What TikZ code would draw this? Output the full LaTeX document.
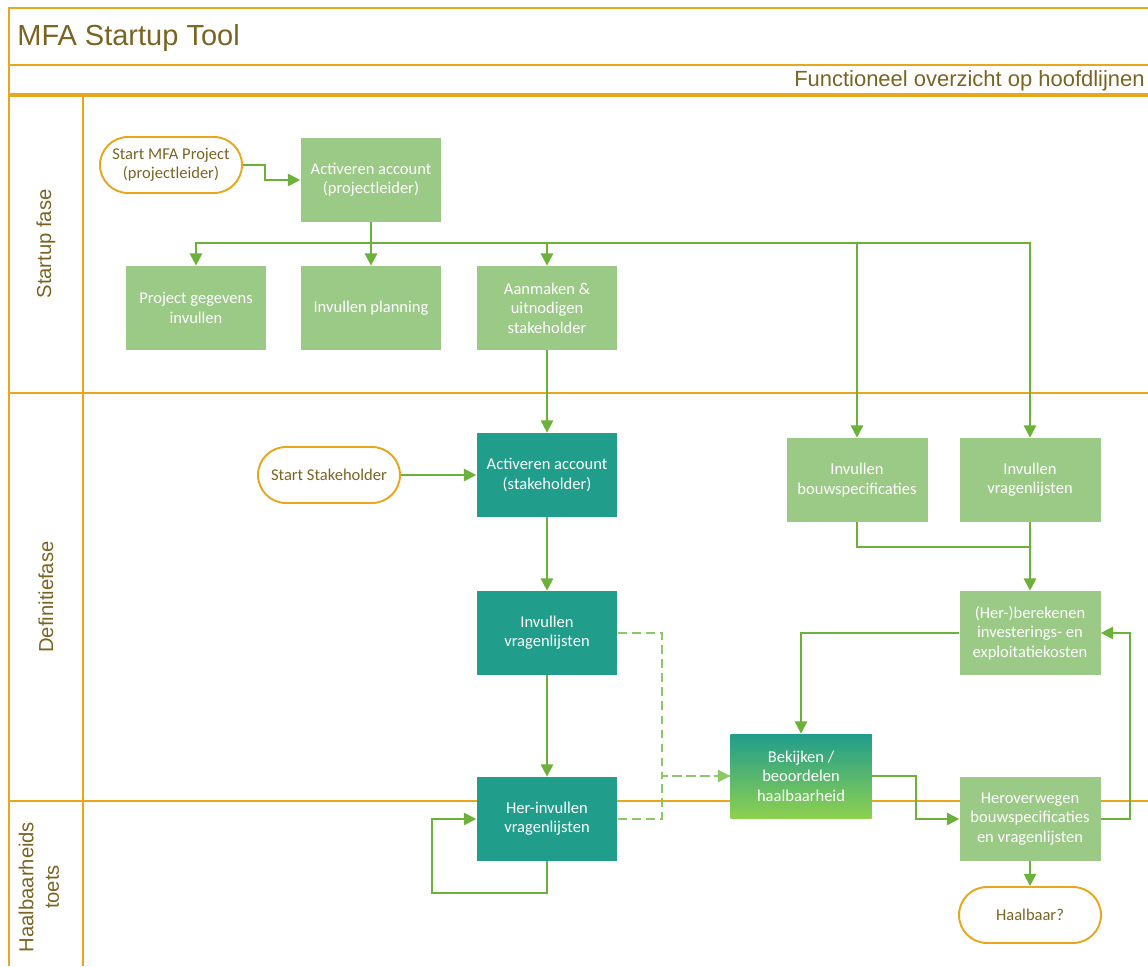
\documentclass[tikz,border=0pt]{standalone}
\usepackage{fontspec}
\setmainfont{Carlito}
\newfontfamily\headfont{Liberation Sans}
\usetikzlibrary{arrows.meta}
\definecolor{gold}{HTML}{E9A71E}
\definecolor{olive}{HTML}{7B6422}
\definecolor{lgreen}{HTML}{9BC986}
\definecolor{tealbox}{HTML}{209D8B}
\definecolor{gradgreen}{HTML}{8ED050}
\definecolor{linegreen}{HTML}{6CB23A}
\definecolor{dashgreen}{HTML}{8CC864}
\begin{document}
\begin{tikzpicture}[x=0.02cm,y=-0.02cm,
                      box/.style={fill=lgreen,text=white,minimum width=2.82cm,minimum height=1.68cm,align=center,inner sep=2pt,font=\fontsize{9.4}{11}\selectfont},
                      tbox/.style={box,fill=tealbox},
                      term/.style={draw=gold,line width=1.1pt,fill=white,rounded corners=0.56cm,minimum width=2.84cm,minimum height=1.12cm,align=center,text=olive,font=\fontsize{9.4}{11}\selectfont},
                      lane/.style={draw=gold,line width=1.2pt},
                      lanetxt/.style={rotate=90,text=olive,align=center,font=\headfont\fontsize{11.5}{14.5}\selectfont},
                      link/.style={draw=linegreen,line width=1.1pt},
                      flow/.style={link,-{Triangle[length=7pt,width=7pt]}},
                      dlink/.style={draw=dashgreen,line width=1.1pt,dash pattern=on 5pt off 3pt},
                      dflow/.style={dlink,-{Triangle[length=7pt,width=7pt]}}]
                      \useasboundingbox (0,0) rectangle (1148,966);
                      \fill[white] (0,0) rectangle (1148,966);
                      \draw[lane] (1148,8) -- (9,8) -- (9,966);
                      \draw[lane] (9,65) -- (1148,65);
                      \draw[lane,line width=2pt] (9,95) -- (1148,95);
                      \draw[lane] (83,95) -- (83,966);
                      \draw[lane] (9,393) -- (1148,393);
                      \draw[lane] (9,801) -- (1148,801);
                      \node[anchor=base west,inner sep=0,text=olive,font=\headfont\fontsize{16.5}{20}\selectfont] (title) at (17,46) {MFA Startup Tool};
                      \node[anchor=base east,inner sep=0,text=olive,font=\headfont\fontsize{12.5}{15}\selectfont] (sub) at (1145,87) {Functioneel overzicht op hoofdlijnen};
                      \node[lanetxt] (l1) at (46,244) {Startup fase};
                      \node[lanetxt] (l2) at (46,597) {Definitiefase};
                      \node[lanetxt] (l3) at (39,887) {Haalbaarheids\\toets};
                      \node[term] (startp) at (171,165) {Start MFA Project\\(projectleider)};
                      \node[box] (actp) at (371,180) {Activeren account\\(projectleider)};
                      \node[box] (gegevens) at (196,308) {Project gegevens\\invullen};
                      \node[box] (plan) at (371,308) {Invullen planning};
                      \node[box] (aanmaken) at (547,308) {Aanmaken \&\\uitnodigen\\stakeholder};
                      \node[term] (starts) at (329,475) {Start Stakeholder};
                      \node[tbox] (acts) at (547,475) {Activeren account\\(stakeholder)};
                      \node[box] (bouw) at (857,480) {Invullen\\bouwspecificaties};
                      \node[box] (vragen) at (1030,480) {Invullen\\vragenlijsten};
                      \node[tbox] (invt) at (547,633) {Invullen\\vragenlijsten};
                      \node[box] (berek) at (1030,633) {(Her-)berekenen\\investerings- en\\exploitatiekosten};
                      \node[box,top color=tealbox,bottom color=gradgreen] (bekijk) at (801,776) {Bekijken /\\beoordelen\\haalbaarheid};
                      \node[tbox] (herinv) at (547,819) {Her-invullen\\vragenlijsten};
                      \node[box] (herov) at (1030,819) {Heroverwegen\\bouwspecificaties\\en vragenlijsten};
                      \node[term] (haal) at (1030,915) {Haalbaar?};
                      \coordinate (split) at (371,243);
                      \draw[flow] (startp.east) -- ++(22,0) |- (actp.west);
                      \draw[link] (actp.south) -- (split);
                      \draw[flow] (split) -- (plan.north);
                      \draw[flow] (split) -| (gegevens.north);
                      \draw[flow] (split) -| (aanmaken.north);
                      \draw[flow] (split) -| (bouw.north);
                      \draw[flow] (split) -| (vragen.north);
                      \draw[flow] (aanmaken.south) -- (acts.north);
                      \draw[flow] (starts.east) -- (acts.west);
                      \draw[flow] (acts.south) -- (invt.north);
                      \draw[flow] (invt.south) -- (herinv.north);
                      \draw[flow] (herinv.south) -- ++(0,32) -- ++(-115,0) |- (herinv.west);
                      \draw[dlink] (herinv.east) -- ++(44,0) |- (bekijk.west);
                      \draw[dflow] (invt.east) -- ++(44,0) |- (bekijk.west);
                      \draw[link] (bouw.south) -- ++(0,25) -| (vragen.south);
                      \draw[flow] (vragen.south) -- (berek.north);
                      \draw[flow] (berek.west) -| (bekijk.north);
                      \draw[flow] (bekijk.east) -- ++(44,0) |- (herov.west);
                      \draw[flow] (herov.east) -- ++(29,0) |- (berek.east);
                      \draw[flow] (herov.south) -- (haal.north);
                  \end{tikzpicture}
\end{document}
